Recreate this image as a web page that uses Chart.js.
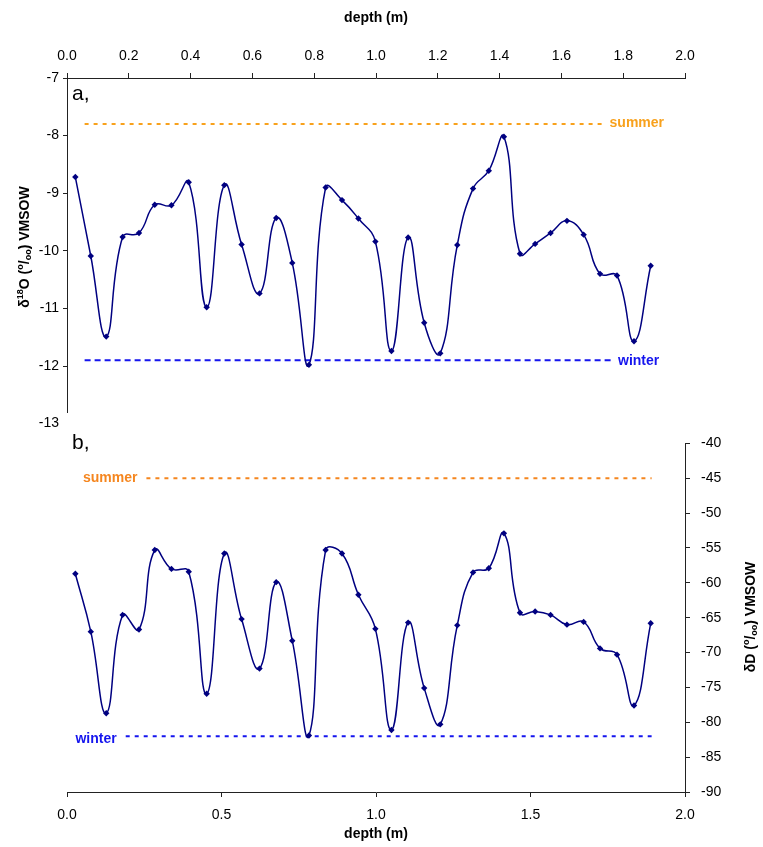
<!DOCTYPE html>
<html>
<head>
<meta charset="utf-8">
<script src="https://cdn.jsdelivr.net/npm/chart.js@4.4.1/dist/chart.umd.min.js"></script>
<style>
  body { margin: 0; background: #fff; }
  #wrap { position: relative; width: 763px; height: 847px; }
  #chartA { position: absolute; left: 0; top: 0; }
  #chartB { position: absolute; left: 0; top: 424px; }
</style>
</head>
<body>
<div id="wrap">
  <canvas id="chartA" width="763" height="436"></canvas>
  <canvas id="chartB" width="763" height="423"></canvas>
</div>
<script>
// sample depths (m), shared by both panels
const depths = [0.027, 0.077, 0.127, 0.180, 0.233, 0.284, 0.338, 0.394, 0.452, 0.509,
  0.565, 0.623, 0.677, 0.729, 0.783, 0.837, 0.890, 0.943, 0.998, 1.050,
  1.104, 1.156, 1.208, 1.263, 1.314, 1.365, 1.414, 1.466, 1.515, 1.565,
  1.618, 1.672, 1.725, 1.780, 1.835, 1.889];

// panel a: d18O
const d18O = [-8.72, -10.09, -11.49, -9.76, -9.69, -9.20, -9.21, -8.81, -10.98, -8.86,
  -9.89, -10.74, -9.43, -10.21, -11.98, -8.90, -9.12, -9.44, -9.84, -11.74,
  -9.77, -11.25, -11.78, -9.90, -8.92, -8.61, -8.02, -10.05, -9.88, -9.69,
  -9.48, -9.72, -10.40, -10.43, -11.57, -10.26];

// panel b: dD
const dD = [-58.7, -67.0, -78.7, -64.6, -66.7, -55.3, -58.0, -58.4, -75.9, -55.8,
  -65.2, -72.3, -59.9, -68.3, -81.9, -55.3, -55.8, -61.7, -66.6, -81.1,
  -65.7, -75.1, -80.3, -66.1, -58.5, -57.9, -52.9, -64.3, -64.1, -64.6,
  -66.0, -65.6, -69.4, -70.3, -77.6, -65.8];

// summer / winter reference levels: [start depth, end depth], value
const summerA = { x: [0.057, 1.743], y: -7.8 };
const winterA = { x: [0.057, 1.767], y: -11.9 };
const summerB = { x: [0.257, 1.892], y: -45 };
const winterB = { x: [0.190, 1.892], y: -82 };

const xTicksA = [0, 2, 0.2];
const xTicksB = [0, 2, 0.5];
const yTicksA = [-13, -7, 1];
const yTicksB = [-90, -40, 5];

const FONT = '"Liberation Sans", Arial, sans-serif';
Chart.defaults.font.family = FONT;
Chart.defaults.color = '#000';

const NAVY = '#000080';
const ORANGE_A = '#f8a11c';
const ORANGE_B = '#f5861f';
const BLUE = '#1515ee';

function pts(xs, ys) {
  return xs.map((x, i) => ({ x: x, y: Array.isArray(ys) ? ys[i] : ys }));
}

function seriesDs(data) {
  return {
    data: data,
    borderColor: NAVY,
    backgroundColor: NAVY,
    borderWidth: 1.5,
    tension: 0.45,
    pointStyle: 'rectRot',
    pointRadius: 3.2,
    pointBorderWidth: 0,
    order: 0
  };
}

function levelDs(lvl, color, dash) {
  return {
    data: pts(lvl.x, lvl.y),
    borderColor: color,
    borderWidth: 2,
    borderDash: dash,
    pointRadius: 0,
    tension: 0,
    order: 1
  };
}

function drawRich(ctx, cx, cy, parts, rot) {
  ctx.save();
  ctx.translate(cx, cy);
  ctx.rotate(rot);
  let total = 0;
  parts.forEach(p => {
    ctx.font = 'bold ' + p.size + 'px ' + FONT;
    p.w = ctx.measureText(p.t).width;
    total += p.w;
  });
  let x = -total / 2;
  ctx.fillStyle = '#000';
  ctx.textBaseline = 'alphabetic';
  parts.forEach(p => {
    ctx.font = 'bold ' + p.size + 'px ' + FONT;
    ctx.fillText(p.t, x, 5 + p.dy);
    x += p.w;
  });
  ctx.restore();
}

function perMil(head) {
  return head.concat([
    { t: ' (', size: 14, dy: 0 },
    { t: 'o', size: 9, dy: -6 },
    { t: '/', size: 14, dy: 0 },
    { t: 'oo', size: 9, dy: 2 },
    { t: ') VMSOW', size: 14, dy: 0 }
  ]);
}

function labelText(ctx, text, x, y, color, align, size, bold) {
  ctx.save();
  ctx.font = (bold ? 'bold ' : '') + size + 'px ' + FONT;
  ctx.fillStyle = color;
  ctx.textAlign = align;
  ctx.textBaseline = 'middle';
  ctx.fillText(text, x, y);
  ctx.restore();
}

const tickFont = { size: 14 };
const oneDec = v => Number(v).toFixed(1);

// panel a
new Chart(document.getElementById('chartA'), {
  type: 'line',
  data: {
    datasets: [
      seriesDs(pts(depths, d18O)),
      levelDs(summerA, ORANGE_A, [4, 5]),
      levelDs(winterA, BLUE, [6, 4])
    ]
  },
  options: {
    responsive: false,
    animation: false,
    devicePixelRatio: 1,
    layout: { padding: { left: 0, right: 78, top: 0, bottom: 2 } },
    plugins: { legend: { display: false }, tooltip: { enabled: false } },
    scales: {
      x: {
        type: 'linear', position: 'top',
        min: xTicksA[0], max: xTicksA[1],
        ticks: { stepSize: xTicksA[2], callback: oneDec, font: tickFont, padding: 8, maxRotation: 0 },
        grid: { drawOnChartArea: false, tickLength: 5, color: '#222' },
        border: { color: '#222', width: 1 },
        title: { display: true, text: 'depth (m)', font: { size: 14, weight: 'bold' }, padding: { top: 10, bottom: 0 } },
        afterFit: s => { s.height = 78; }
      },
      y: {
        min: yTicksA[0], max: yTicksA[1],
        ticks: { stepSize: yTicksA[2], font: tickFont, padding: 4 },
        grid: { drawOnChartArea: false, tickLength: 4, color: '#222' },
        border: { color: '#222', width: 1 },
        afterFit: s => { s.width = 67; }
      }
    }
  },
  plugins: [{
    id: 'decorA',
    afterDraw(chart) {
      const { ctx, scales } = chart;
      const x = scales.x, y = scales.y;
      // the original's left axis stops a little short of -13
      ctx.clearRect(x.left - 6, y.bottom - 11, 8, 13);
      drawRich(ctx, 24, 247, perMil([
        { t: 'δ', size: 14, dy: 0 },
        { t: '18', size: 9, dy: -6 },
        { t: 'O', size: 14, dy: 0 }
      ]), -Math.PI / 2);
      labelText(ctx, 'a,', 72, 94, '#000', 'left', 21, false);
      labelText(ctx, 'summer', x.getPixelForValue(summerA.x[1]) + 4, y.getPixelForValue(summerA.y) - 1, ORANGE_A, 'left', 14, true);
      labelText(ctx, 'winter', x.getPixelForValue(winterA.x[1]) + 5, y.getPixelForValue(winterA.y) + 1, BLUE, 'left', 14, true);
    }
  }]
});

// panel b
new Chart(document.getElementById('chartB'), {
  type: 'line',
  data: {
    datasets: [
      seriesDs(pts(depths, dD)),
      levelDs(summerB, ORANGE_B, [4, 5]),
      levelDs(winterB, BLUE, [4, 5])
    ]
  },
  options: {
    responsive: false,
    animation: false,
    devicePixelRatio: 1,
    layout: { padding: { left: 67, right: 0, top: 6, bottom: 0 } },
    plugins: { legend: { display: false }, tooltip: { enabled: false } },
    scales: {
      x: {
        type: 'linear', position: 'bottom',
        min: xTicksB[0], max: xTicksB[1],
        ticks: { stepSize: xTicksB[2], callback: oneDec, font: tickFont, padding: 10, maxRotation: 0 },
        grid: { drawOnChartArea: false, tickLength: 5, color: '#222' },
        border: { color: '#222', width: 1 },
        title: { display: true, text: 'depth (m)', font: { size: 14, weight: 'bold' }, padding: { top: 0, bottom: 4 } },
        afterFit: s => { s.height = 55; }
      },
      y: {
        position: 'right',
        min: yTicksB[0], max: yTicksB[1],
        ticks: { stepSize: yTicksB[2], font: tickFont, padding: 11 },
        grid: { drawOnChartArea: false, tickLength: 5, color: '#222' },
        border: { color: '#222', width: 1 },
        afterFit: s => { s.width = 78; }
      }
    }
  },
  plugins: [{
    id: 'decorB',
    afterDraw(chart) {
      const { ctx, scales } = chart;
      const x = scales.x, y = scales.y;
      drawRich(ctx, 750, 193, perMil([
        { t: 'δD', size: 14, dy: 0 }
      ]), -Math.PI / 2);
      labelText(ctx, 'b,', 72, 19, '#000', 'left', 21, false);
      labelText(ctx, 'summer', x.getPixelForValue(summerB.x[0]) - 9, y.getPixelForValue(summerB.y), ORANGE_B, 'right', 14, true);
      labelText(ctx, 'winter', x.getPixelForValue(winterB.x[0]) - 9, y.getPixelForValue(winterB.y) + 3, BLUE, 'right', 14, true);
    }
  }]
});
</script>
</body>
</html>
